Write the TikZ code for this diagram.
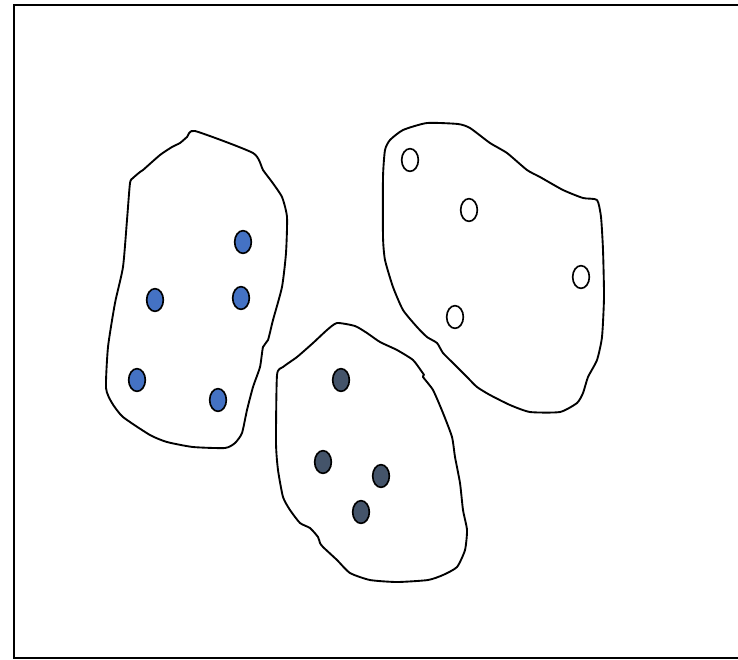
\documentclass[tikz,border=0pt]{standalone}
\usepackage{tikz}
\usetikzlibrary{shapes.geometric}
\definecolor{dotblue}{HTML}{4472C4}
\definecolor{dotslate}{HTML}{44546A}

\begin{document}
\begin{tikzpicture}[x=0.03cm, y=-0.03cm,
  blob/.style={draw, line width=1.6pt, line join=round},
  dot/.style={draw, ellipse, line width=1.4pt, inner sep=0pt, minimum width=0.5cm, minimum height=0.68cm},
  bluedot/.style={dot, fill=dotblue},
  slatedot/.style={dot, fill=dotslate},
  whitedot/.style={dot, fill=white}]
  \useasboundingbox (0,0) rectangle (738,659);
  % frame, open on the right
  \draw[line width=1.6pt] (738,5) -- (14,5) -- (14,658) -- (738,658);
  % left cluster
  \draw[blob] plot[smooth cycle, tension=0.35] coordinates {
    (195,131) (253,153) (263,170) (272,182) (282,197) (287,217) (286,253)
    (282,287) (273,320) (268,340) (263,347) (260,367) (253,387) (247,410)
    (242,433) (235,443) (225,448) (193,447) (167,442) (150,435) (123,417)
    (112,403) (106,388) (108,347) (115,303) (123,267) (127,220) (130,183)
    (133,178) (140,172) (143,170) (160,155) (172,147) (180,143) (187,137)};
  \node[bluedot] (b1) at (243,242) {};
  \node[bluedot] (b2) at (155,300) {};
  \node[bluedot] (b3) at (241,298) {};
  \node[bluedot] (b4) at (137,380) {};
  \node[bluedot] (b5) at (218,400) {};
  % middle cluster
  \draw[blob] plot[smooth cycle, tension=0.35] coordinates {
    (337,323) (355,326) (367,333) (380,342) (397,350) (413,360) (422,372)
    (424,375) (423,377) (433,390) (443,413) (452,437) (455,457) (460,483)
    (463,510) (467,530) (465,550) (457,567) (443,575) (428,580) (397,582)
    (370,580) (350,573) (337,560) (323,547) (320,543) (318,537) (310,528)
    (300,523) (290,510) (283,497) (278,470) (276,443) (277,375) (283,367)
    (297,357) (313,343) (327,330)};
  \node[slatedot] (s1) at (341,380) {};
  \node[slatedot] (s2) at (323,462) {};
  \node[slatedot] (s3) at (381,476) {};
  \node[slatedot] (s4) at (361,512) {};
  % right cluster
  \draw[blob] plot[smooth cycle, tension=0.35] coordinates {
    (427,123) (458,124) (470,128) (490,143) (507,153) (527,170) (540,177)
    (563,190) (583,198) (597,200) (601,217) (603,250) (604,297) (602,337)
    (597,360) (588,377) (583,393) (577,403) (560,412) (530,412) (510,405)
    (490,395) (477,387) (467,377) (453,363) (443,353) (437,343) (427,337)
    (417,327) (403,310) (393,287) (385,260) (383,237) (383,177) (385,150)
    (390,140) (403,130)};
  \node[whitedot] (w1) at (410,160) {};
  \node[whitedot] (w2) at (469,210) {};
  \node[whitedot] (w3) at (581,277) {};
  \node[whitedot] (w4) at (455,317) {};
\end{tikzpicture}
\end{document}
